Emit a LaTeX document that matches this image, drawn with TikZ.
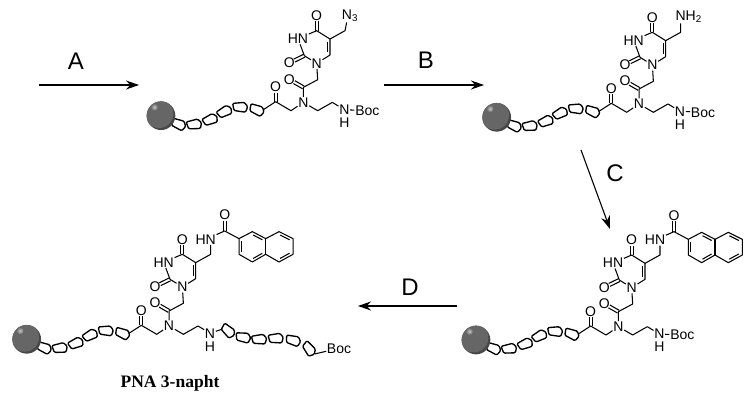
\documentclass[tikz,border=0pt]{standalone}
\usepackage{fontspec}
\setmainfont{Liberation Sans}
\newfontfamily\titlefont{Liberation Serif}
\usetikzlibrary{calc,arrows.meta}
\tikzset{
  bond/.style={line width=1.05pt,line join=round},
  atom/.style={inner sep=.6pt,font=\fontsize{14}{14}\selectfont},
  hatom/.style={inner sep=0pt,font=\fontsize{14}{14}\selectfont},
  beadline/.style={line width=1.35pt,fill=white,line join=round,rounded corners=1.2pt},
  letter/.style={inner sep=0pt,font=\fontsize{24}{24}\selectfont},
  react/.style={line width=1.1pt,-{Stealth[length=13pt,width=9pt]}},
  mol/.style={x=.33333pt,y=-.33333pt}
}
\newcommand{\bead}[3]{\draw[beadline,shift={(#1,#2)},rotate=#3] (-23,-9) -- (12,-15) -- (23,-3) -- (18,14) -- (-17,12) -- cycle;}
\newcommand{\ringdbl}[3]{\draw[bond] ($(#1)!.16!(#2)!#3!90:(#2)$) -- ($(#2)!.16!(#1)!-#3!90:(#1)$);}
% carbonyl: two parallel strokes from a carbon to the rim of its oxygen
\newcommand{\carbonyl}[2]{%
  \draw[bond] ($(#1)!1.6pt!90:(#2)$) -- ($(#2.center)!5.6pt!(#1)!1.6pt!-90:(#1)$);
  \draw[bond] ($(#1)!1.6pt!-90:(#2)$) -- ($(#2.center)!5.6pt!(#1)!1.6pt!90:(#1)$);
}
\newcommand{\corechain}{%
  \bead{130}{445}{-25}\bead{177}{446}{5}\bead{225}{432}{20}\bead{268}{408}{25}\bead{315}{394}{-5}\bead{365}{402}{-25}%
  \fill[black!72] (78,420) circle[radius=43];
  \begin{scope}
    \clip (78,420) circle[radius=43];
    \fill[black!60] (72,414) circle[radius=43];
  \end{scope}
  \shade[inner color=black!22,outer color=black!60] (58,394) circle[radius=11];
  \coordinate (c0) at (385,402);
  \coordinate (c1) at (422,378);
  \node[atom] (o1) at (422,334) {O};
  \coordinate (c2) at (468,405);
  \node[atom] (n1) at (505,380) {N};
  \coordinate (c3) at (505,335);
  \node[atom] (o2) at (463,311) {O};
  \coordinate (c4) at (548,312);
  \node[atom] (n2) at (545,263) {N};
  \coordinate (c5) at (508,240);
  \node[atom] (o3) at (463,262) {O};
  \node[atom] (n3) at (489,189) {HN};
  \coordinate (c6) at (545,165);
  \node[atom] (o4) at (545,120) {O};
  \coordinate (c7) at (585,190);
  \coordinate (c8) at (585,238);
  \coordinate (c9) at (548,405);
  \coordinate (c10) at (592,380);
  \draw[bond] (c0) -- (c1) -- (c2) -- (n1) -- (c3) -- (c4) -- (n2) -- (c5) -- (n3) -- (c6) -- (c7) -- (c8) -- (n2);
  \draw[bond] (n1) -- (c9) -- (c10);
  \carbonyl{c1}{o1}
  \carbonyl{c3}{o2}
  \carbonyl{c5}{o3}
  \carbonyl{c6}{o4}
  \ringdbl{c7}{c8}{-2.6pt}
}
\newcommand{\bocend}{%
  \node[atom] (n4) at (628,402) {N};
  \node[hatom] (h4) at (628,441) {H};
  \node[atom] (boc) at (697,405) {Boc};
  \draw[bond] (c10) -- (n4);
  \draw[bond] (n4) -- (boc);
}
\newcommand{\napht}{%
  \coordinate (d1) at (630,165);
  \node[atom] (n5) at (615,120) {HN};
  \coordinate (d2) at (672,95);
  \node[atom] (o5) at (672,47) {O};
  \coordinate (r1) at (715,118);
  \coordinate (r2) at (755,97);
  \coordinate (r3) at (795,118);
  \coordinate (r4) at (835,97);
  \coordinate (r5) at (877,118);
  \coordinate (r6) at (877,165);
  \coordinate (r7) at (835,188);
  \coordinate (r8) at (795,165);
  \coordinate (r9) at (755,188);
  \coordinate (r10) at (715,165);
  \draw[bond] (c7) -- (d1) -- ($(n5.south)+(15,0)$);
  \draw[bond] (n5) -- (d2) -- (r1);
  \carbonyl{d2}{o5}
  \draw[bond] (r1) -- (r2) -- (r3) -- (r4) -- (r5) -- (r6) -- (r7) -- (r8) -- (r9) -- (r10) -- cycle;
  \draw[bond] (r3) -- (r8);
  \ringdbl{r2}{r3}{-2.6pt}
  \ringdbl{r4}{r5}{-2.6pt}
  \ringdbl{r6}{r7}{-2.6pt}
  \ringdbl{r8}{r9}{-2.6pt}
  \ringdbl{r10}{r1}{-2.6pt}
}
\begin{document}
\begin{tikzpicture}[x=1pt,y=-1pt]
\useasboundingbox (0,0) rectangle (753,405);
\fill[white] (0,0) rectangle (753,405);

% molecule 1: azide
\begin{scope}[shift={(135,-24.3)},mol,name prefix=ma-]
  \corechain
  \bocend
  \coordinate (e1) at (630,165);
  \node[atom] (n3a) at (645,120) {N\textsubscript{3}};
  \draw[bond] (c7) -- (e1) -- ($(n3a.south)+(-10,0)$);
\end{scope}

% molecule 2: amine
\begin{scope}[shift={(470.7,-22.7)},mol,name prefix=mb-]
  \corechain
  \bocend
  \coordinate (e1) at (630,165);
  \node[atom] (nh2) at (654,118) {NH\textsubscript{2}};
  \draw[bond] (c7) -- (e1) -- ($(nh2.south)+(-24,0)$);
\end{scope}

% molecule 3: naphthyl, Boc
\begin{scope}[shift={(450,200)},mol,name prefix=mc-]
  \corechain
  \bocend
  \napht
\end{scope}

% molecule 4: PNA 3-napht
\begin{scope}[shift={(0.7,199.3)},mol,name prefix=md-]
  \corechain
  \napht
  \node[atom] (n4) at (628,402) {N};
  \node[hatom] (h4) at (628,441) {H};
  \draw[bond] (c10) -- (n4);
  \coordinate (f1) at (678,385);
  \draw[bond] (n4) -- (f1);
  \bead{682}{394}{-45}\bead{727}{414}{-12}\bead{775}{420}{0}\bead{825}{417}{0}\bead{877}{423}{-18}\bead{925}{448}{-55}
  \coordinate (f2) at (942,464);
  \node[atom] (boc) at (1015,447) {Boc};
  \draw[bond] (f2) -- (boc);
\end{scope}

% reaction arrows
\coordinate (a1) at (39,85);  \coordinate (a2) at (139,85);
\coordinate (b1) at (384,85); \coordinate (b2) at (484,85);
\coordinate (c1) at (581,150);\coordinate (c2) at (610,229);
\coordinate (d1) at (457,306);\coordinate (d2) at (358,306);
\draw[react] (a1) -- (a2);
\draw[react] (b1) -- (b2);
\draw[react] (c1) -- (c2);
\draw[react] (d1) -- (d2);
\node[letter] (la) at (76,61) {A};
\node[letter] (lb) at (426,60) {B};
\node[letter] (lc) at (615,173) {C};
\node[letter] (ld) at (410,287) {D};
\node[inner sep=0pt,font=\titlefont\bfseries\fontsize{17.5}{17.5}\selectfont] (title) at (170,383) {PNA 3-napht};
\end{tikzpicture}
\end{document}
